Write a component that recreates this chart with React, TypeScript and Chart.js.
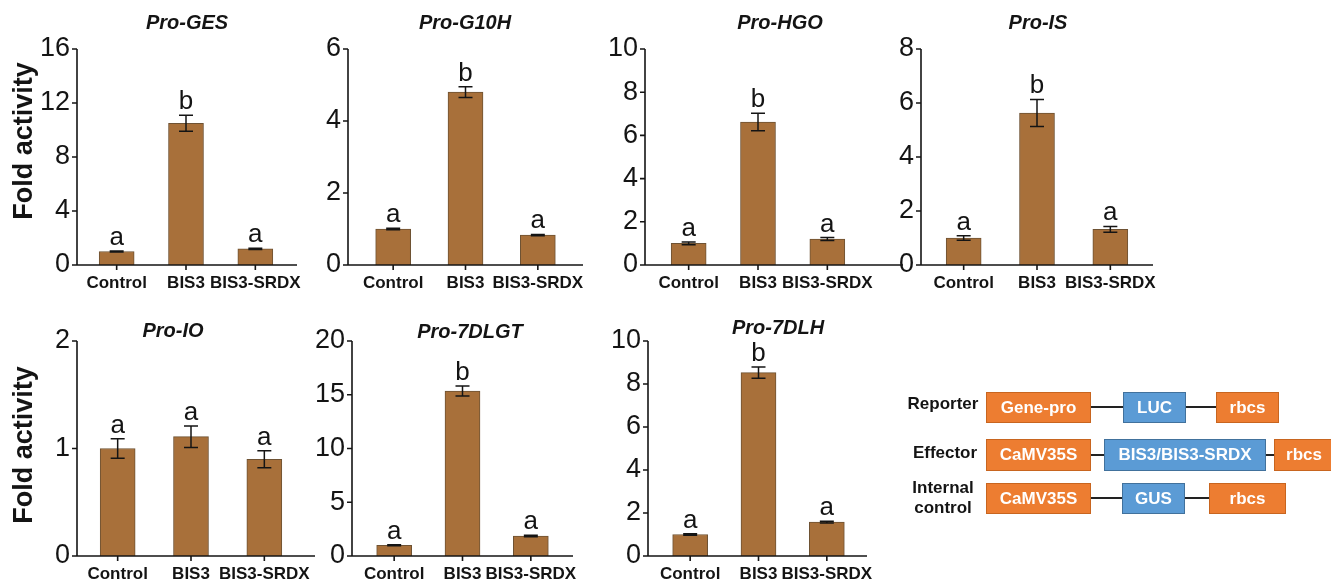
import React, { useEffect, useRef } from "react";
import { Chart, registerables } from "chart.js";
Chart.register(...registerables);

const categories = ["Control", "BIS3", "BIS3-SRDX"];
const yAxisTitle = "Fold activity";

const gesTitle = "Pro-GES";
const gesMeans = [1.0, 10.5, 1.2];
const gesErrors = [0.04, 0.6, 0.05];
const gesLetters = ["a", "b", "a"];
const gesTicks = [0, 4, 8, 12, 16];

const g10hTitle = "Pro-G10H";
const g10hMeans = [1.0, 4.8, 0.83];
const g10hErrors = [0.02, 0.15, 0.02];
const g10hLetters = ["a", "b", "a"];
const g10hTicks = [0, 2, 4, 6];

const hgoTitle = "Pro-HGO";
const hgoMeans = [1.0, 6.62, 1.2];
const hgoErrors = [0.06, 0.4, 0.07];
const hgoLetters = ["a", "b", "a"];
const hgoTicks = [0, 2, 4, 6, 8, 10];

const isTitle = "Pro-IS";
const isMeans = [1.0, 5.63, 1.32];
const isErrors = [0.08, 0.5, 0.11];
const isLetters = ["a", "b", "a"];
const isTicks = [0, 2, 4, 6, 8];

const ioTitle = "Pro-IO";
const ioMeans = [1.0, 1.11, 0.9];
const ioErrors = [0.09, 0.1, 0.08];
const ioLetters = ["a", "a", "a"];
const ioTicks = [0, 1, 2];

const dlgtTitle = "Pro-7DLGT";
const dlgtMeans = [1.0, 15.35, 1.86];
const dlgtErrors = [0.05, 0.47, 0.06];
const dlgtLetters = ["a", "b", "a"];
const dlgtTicks = [0, 5, 10, 15, 20];

const dlhTitle = "Pro-7DLH";
const dlhMeans = [1.0, 8.53, 1.58];
const dlhErrors = [0.03, 0.26, 0.04];
const dlhLetters = ["a", "b", "a"];
const dlhTicks = [0, 2, 4, 6, 8, 10];

type Geom = {
  a: number; b: number; t: number; u: number;
  axisL: number; axisR: number;
  titleX: number; titleY: number;
  yTitleX?: number; yTitleY?: number;
};

const geoms: Geom[] = [
  { a: 82, b: 290, t: 49, u: 265, axisL: 77, axisR: 297, titleX: 187, titleY: 23, yTitleX: 25, yTitleY: 141 },
  { a: 357, b: 574, t: 49, u: 265, axisL: 348, axisR: 583, titleX: 465, titleY: 23 },
  { a: 654, b: 862, t: 49, u: 265, axisL: 645, axisR: 903, titleX: 780, titleY: 23 },
  { a: 927, b: 1147, t: 49, u: 265, axisL: 921, axisR: 1153, titleX: 1038, titleY: 23 },
  { a: 81, b: 301, t: 341, u: 556, axisL: 77, axisR: 315, titleX: 173, titleY: 331, yTitleX: 25, yTitleY: 445 },
  { a: 360, b: 565, t: 341, u: 556, axisL: 352, axisR: 573, titleX: 470, titleY: 332 },
  { a: 656, b: 861, t: 341, u: 556, axisL: 648, axisR: 867, titleX: 778, titleY: 328 },
];

const panels = [
  { title: gesTitle, means: gesMeans, errors: gesErrors, letters: gesLetters, ticks: gesTicks },
  { title: g10hTitle, means: g10hMeans, errors: g10hErrors, letters: g10hLetters, ticks: g10hTicks },
  { title: hgoTitle, means: hgoMeans, errors: hgoErrors, letters: hgoLetters, ticks: hgoTicks },
  { title: isTitle, means: isMeans, errors: isErrors, letters: isLetters, ticks: isTicks },
  { title: ioTitle, means: ioMeans, errors: ioErrors, letters: ioLetters, ticks: ioTicks },
  { title: dlgtTitle, means: dlgtMeans, errors: dlgtErrors, letters: dlgtLetters, ticks: dlgtTicks },
  { title: dlhTitle, means: dlhMeans, errors: dlhErrors, letters: dlhLetters, ticks: dlhTicks },
];

const FONT = '"Liberation Sans", Arial, Helvetica, sans-serif';
const BAR_FILL = "#A8703A";
const BAR_EDGE = "#6E5233";
const INK = "#141414";

const PAD_L = 80, PAD_T = 50, PAD_R = 50, PAD_B = 40;

type PanelProps = {
  title: string; means: number[]; errors: number[]; letters: string[]; ticks: number[]; g: Geom;
};

function Panel({ title, means, errors, letters, ticks, g }: PanelProps) {
  const ref = useRef<HTMLCanvasElement>(null);
  useEffect(() => {
    if (!ref.current) return;
    const overlay = {
      id: "overlay",
      afterDatasetsDraw(chart: any) {
        const ctx = chart.ctx;
        const ca = chart.chartArea;
        const ys = chart.scales.y;
        const xs = chart.scales.x;
        const dx = ca.left - g.a;
        const dy = ca.top - g.t;
        const meta = chart.getDatasetMeta(0);
        ctx.save();
        // error bars + letters
        ctx.strokeStyle = INK;
        ctx.lineWidth = 1.5;
        meta.data.forEach((el: any, i: number) => {
          const x = el.x;
          const yT = ys.getPixelForValue(means[i] + errors[i]);
          const yB = ys.getPixelForValue(means[i] - errors[i]);
          ctx.beginPath();
          ctx.moveTo(x, yT); ctx.lineTo(x, yB);
          ctx.moveTo(x - 7, yT); ctx.lineTo(x + 7, yT);
          ctx.moveTo(x - 7, yB); ctx.lineTo(x + 7, yB);
          ctx.stroke();
          ctx.fillStyle = INK;
          ctx.font = `26px ${FONT}`;
          ctx.textAlign = "center";
          ctx.textBaseline = "alphabetic";
          ctx.fillText(letters[i], x, yT - 6);
        });
        // axes
        const xL = g.axisL + dx;
        const xR = g.axisR + dx;
        ctx.strokeStyle = INK;
        ctx.lineWidth = 1.6;
        ctx.beginPath();
        ctx.moveTo(xL, ca.top);
        ctx.lineTo(xL, ca.bottom);
        ctx.lineTo(xR, ca.bottom);
        ys.ticks.forEach((_: any, i: number) => {
          const y = ys.getPixelForTick(i);
          ctx.moveTo(xL - 5, y); ctx.lineTo(xL, y);
        });
        xs.ticks.forEach((_: any, i: number) => {
          const x = xs.getPixelForTick(i);
          ctx.moveTo(x, ca.bottom); ctx.lineTo(x, ca.bottom + 5);
        });
        ctx.stroke();
        // panel title
        ctx.fillStyle = INK;
        ctx.font = `italic bold 20px ${FONT}`;
        ctx.textAlign = "center";
        ctx.textBaseline = "middle";
        ctx.fillText(title, g.titleX + dx, g.titleY + dy);
        // y axis title
        if (g.yTitleX !== undefined && g.yTitleY !== undefined) {
          ctx.translate(g.yTitleX + dx, g.yTitleY + dy);
          ctx.rotate(-Math.PI / 2);
          ctx.font = `bold 27px ${FONT}`;
          ctx.fillText(yAxisTitle, 0, 0);
        }
        ctx.restore();
      },
    };
    const chart = new Chart(ref.current, {
      type: "bar",
      data: {
        labels: categories,
        datasets: [
          {
            data: means,
            backgroundColor: BAR_FILL,
            borderColor: BAR_EDGE,
            borderWidth: 1,
            barThickness: 35,
          },
        ],
      },
      options: {
        animation: false,
        responsive: true,
        maintainAspectRatio: false,
        layout: { padding: { left: 0, top: PAD_T, right: PAD_R, bottom: 0 } },
        plugins: { legend: { display: false }, tooltip: { enabled: false }, title: { display: false } },
        scales: {
          x: {
            type: "category",
            offset: true,
            grid: { display: false, drawTicks: false },
            border: { display: false },
            ticks: {
              color: INK,
              font: { family: FONT, size: 17, weight: "bold" },
              padding: 8,
              maxRotation: 0,
              autoSkip: false,
            },
            afterFit: (s: any) => { s.height = PAD_B; },
          },
          y: {
            type: "linear",
            min: ticks[0],
            max: ticks[ticks.length - 1],
            grid: { display: false, drawTicks: false },
            border: { display: false },
            ticks: {
              stepSize: ticks[1] - ticks[0],
              color: INK,
              font: { family: FONT, size: 27 },
              padding: g.a - g.axisL + 7,
            },
            afterFit: (s: any) => { s.width = PAD_L; },
          },
        },
      },
      plugins: [overlay],
    } as any);
    return () => chart.destroy();
  }, []);
  const w = g.b - g.a + PAD_L + PAD_R;
  const h = g.u - g.t + PAD_T + PAD_B;
  return (
    <div style={{ position: "absolute", left: g.a - PAD_L, top: g.t - PAD_T, width: w, height: h }}>
      <canvas ref={ref} />
    </div>
  );
}

const boxBase: React.CSSProperties = {
  position: "absolute",
  boxSizing: "border-box",
  color: "#fff",
  fontFamily: FONT,
  fontWeight: "bold",
  fontSize: 17,
  display: "flex",
  alignItems: "center",
  justifyContent: "center",
  whiteSpace: "nowrap",
};
const ORANGE = { background: "#ED7D31", border: "1px solid #C8651F" };
const BLUE = { background: "#5B9BD5", border: "1px solid #41719C" };

function Box({ x1, x2, y1, y2, text, kind }: { x1: number; x2: number; y1: number; y2: number; text: string; kind: "o" | "b" }) {
  return (
    <div style={{ ...boxBase, ...(kind === "o" ? ORANGE : BLUE), left: x1, top: y1, width: x2 - x1, height: y2 - y1 }}>
      {text}
    </div>
  );
}
function Line({ x1, x2, y }: { x1: number; x2: number; y: number }) {
  return <div style={{ position: "absolute", left: x1, top: y - 0.75, width: x2 - x1, height: 1.5, background: "#222" }} />;
}
function Label({ cx, cy, lines }: { cx: number; cy: number; lines: string[] }) {
  return (
    <div
      style={{
        position: "absolute", left: cx - 60, width: 120, top: cy - lines.length * 10, height: lines.length * 20,
        textAlign: "center", fontFamily: FONT, fontWeight: "bold", fontSize: 17, lineHeight: "20px", color: INK,
      }}
    >
      {lines.map((l, i) => (<div key={i}>{l}</div>))}
    </div>
  );
}

function Diagram() {
  return (
    <>
      <Label cx={943} cy={404} lines={["Reporter"]} />
      <Line x1={1091} x2={1123} y={407} />
      <Line x1={1186} x2={1216} y={407} />
      <Box x1={986} x2={1091} y1={392} y2={423} text="Gene-pro" kind="o" />
      <Box x1={1123} x2={1186} y1={392} y2={423} text="LUC" kind="b" />
      <Box x1={1216} x2={1279} y1={392} y2={423} text="rbcs" kind="o" />

      <Label cx={945} cy={453} lines={["Effector"]} />
      <Line x1={1091} x2={1104} y={455} />
      <Line x1={1266} x2={1274} y={455} />
      <Box x1={986} x2={1091} y1={439} y2={471} text="CaMV35S" kind="o" />
      <Box x1={1104} x2={1266} y1={439} y2={471} text="BIS3/BIS3-SRDX" kind="b" />
      <Box x1={1274} x2={1334} y1={439} y2={471} text="rbcs" kind="o" />

      <Label cx={943} cy={498} lines={["Internal", "control"]} />
      <Line x1={1091} x2={1122} y={498} />
      <Line x1={1185} x2={1209} y={498} />
      <Box x1={986} x2={1091} y1={483} y2={514} text="CaMV35S" kind="o" />
      <Box x1={1122} x2={1185} y1={483} y2={514} text="GUS" kind="b" />
      <Box x1={1209} x2={1286} y1={483} y2={514} text="rbcs" kind="o" />
    </>
  );
}

export default function App() {
  return (
    <div style={{ position: "absolute", left: 0, top: 0, width: 1331, height: 581, background: "#fff", overflow: "hidden" }}>
      {panels.map((p, i) => (
        <Panel key={i} title={p.title} means={p.means} errors={p.errors} letters={p.letters} ticks={p.ticks} g={geoms[i]} />
      ))}
      <Diagram />
    </div>
  );
}
